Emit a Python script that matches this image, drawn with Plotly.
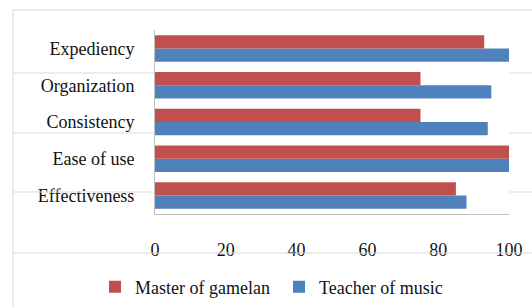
import plotly.graph_objects as go

categories = ["Effectiveness", "Ease of use", "Consistency", "Organization", "Expediency"]
master_of_gamelan = [85, 100, 75, 75, 93]
teacher_of_music = [88, 100, 94, 95, 100]
x_ticks = [0, 20, 40, 60, 80, 100]

RED = "#C0504D"
BLUE = "#4F81BD"
FONT = "Liberation Serif"

fig = go.Figure()
fig.add_trace(go.Bar(y=categories, x=teacher_of_music, orientation="h",
                     name="Teacher of music", marker=dict(color=BLUE, line=dict(width=0))))
fig.add_trace(go.Bar(y=categories, x=master_of_gamelan, orientation="h",
                     name="Master of gamelan", marker=dict(color=RED, line=dict(width=0))))

W, H = 532, 307
L, R, T, B = 155, 23, 30, 93
pw, ph = W - L - R, H - T - B

def px(x):
    return (x - L) / pw

def py(y):
    return (H - B - y) / ph

shapes = []
line_style = dict(color="#D9D9D9", width=1)
shapes.append(dict(type="line", xref="paper", yref="paper", x0=px(13), x1=px(532), y0=py(10), y1=py(10), line=line_style))
shapes.append(dict(type="line", xref="paper", yref="paper", x0=px(13), x1=px(13), y0=py(10), y1=py(307), line=line_style))
shapes.append(dict(type="line", xref="paper", yref="paper", x0=px(13), x1=px(532), y0=py(253), y1=py(253), line=line_style))
for yy in [73, 133, 192]:
    shapes.append(dict(type="line", xref="paper", yref="paper", x0=px(13), x1=px(155), y0=py(yy), y1=py(yy), line=line_style))
    shapes.append(dict(type="line", xref="paper", yref="paper", x0=px(509), x1=px(532), y0=py(yy), y1=py(yy), line=line_style))

fig.update_layout(
    width=W, height=H,
    margin=dict(l=L, r=R, t=T, b=B, autoexpand=False),
    paper_bgcolor="white", plot_bgcolor="white",
    barmode="group", bargap=0.28, bargroupgap=0,
    font=dict(family=FONT, size=18, color="#111111"),
    showlegend=True,
    legend=dict(orientation="h", traceorder="reversed", x=px(95), xanchor="left",
                y=py(287), yanchor="middle", font=dict(family=FONT, size=18),
                itemwidth=30, entrywidth=139, entrywidthmode="pixels",
                bgcolor="rgba(0,0,0,0)"),
    shapes=shapes,
    xaxis=dict(range=[0, 100], tickvals=x_ticks, showgrid=False, zeroline=False,
               showline=True, linecolor="#BFBFBF", linewidth=1, ticks="",
               ticklabelstandoff=19, tickfont=dict(family=FONT, size=18)),
    yaxis=dict(showgrid=False, zeroline=False, showline=True, linecolor="#BFBFBF",
               linewidth=1, ticks="", ticklabelstandoff=16,
               tickfont=dict(family=FONT, size=18)),
)

fig.write_html("out.html", config={"displayModeBar": False},
               post_script="document.body.style.margin='0';")
